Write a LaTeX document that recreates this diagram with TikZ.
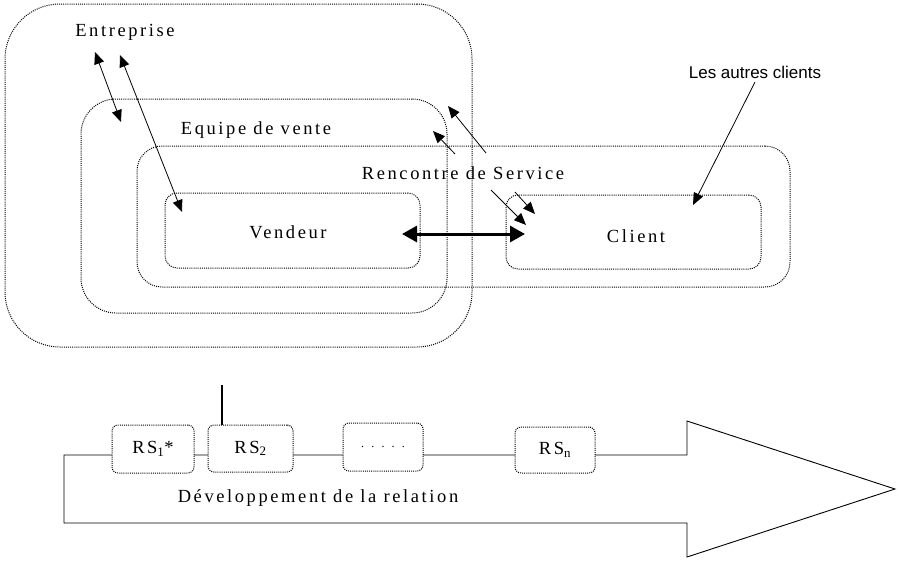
\documentclass[tikz,border=0pt]{standalone}
\usepackage{fontspec}
\setmainfont{Liberation Serif}
\setsansfont{Liberation Sans}
\usetikzlibrary{arrows.meta}
\tikzset{
  dotbox/.style={draw, line width=1pt, dash pattern=on 1pt off 1.1pt, fill=none, inner sep=0pt},
  rsbox/.style={draw, line width=1pt, dash pattern=on 1pt off 1.1pt, fill=white, rounded corners=6pt, inner sep=0pt, minimum width=82pt, minimum height=48pt},
  lbl/.style={font=\fontsize{18.5}{21}\selectfont\addfontfeatures{LetterSpace=14}, inner sep=0pt},
  arr/.style={line width=0.8pt, -{Triangle[length=12pt,width=10pt]}},
  darr/.style={line width=0.8pt, {Triangle[length=12pt,width=10pt]}-{Triangle[length=12pt,width=10pt]}},
  thickarr/.style={line width=3pt, {Triangle[length=15pt,width=16pt]}-{Triangle[length=15pt,width=16pt]}}
}
\begin{document}
\begin{tikzpicture}[x=1pt,y=-1pt]
\useasboundingbox (0,0) rectangle (899,560);
% nested boxes
\node[dotbox, rounded corners=55pt, minimum width=467pt, minimum height=343pt] (ent) at (238.5,175.5) {};
\node[dotbox, rounded corners=35pt, minimum width=366pt, minimum height=214pt] (eq) at (264,206) {};
\node[dotbox, rounded corners=25pt, minimum width=653pt, minimum height=141pt] (rs) at (463.5,216.5) {};
\node[dotbox, rounded corners=12pt, minimum width=255pt, minimum height=75pt] (vend) at (292.5,230.5) {};
\node[dotbox, rounded corners=12pt, minimum width=255pt, minimum height=74pt] (cli) at (633.5,232) {};
% labels
\node[lbl] (lent) at (125,32) {Entreprise};
\node[lbl] (leq) at (256,130) {Equipe de vente};
\node[lbl] (lrs) at (463,173) {Rencontre de Service};
\node[lbl] (lvend) at (288,232) {Vendeur};
\node[lbl] (lcli) at (636,236) {Client};
\node[inner sep=0pt, font=\sffamily\fontsize{17}{20}\selectfont] (lautres) at (755,72) {Les autres clients};
% arrows
\coordinate (a1) at (95,52);
\coordinate (a2) at (121,122);
\draw[darr] (a1) -- (a2);
\coordinate (b1) at (120,55);
\coordinate (b2) at (182,212);
\draw[darr] (b1) -- (b2);
\coordinate (c1) at (486,153);
\coordinate (c2) at (448,106);
\draw[arr] (c1) -- (c2);
\coordinate (d1) at (455,154);
\coordinate (d2) at (433,131);
\draw[arr] (d1) -- (d2);
\coordinate (e1) at (491,190);
\coordinate (e2) at (526,225);
\draw[arr] (e1) -- (e2);
\coordinate (f1) at (515,192);
\coordinate (f2) at (535,214);
\draw[arr] (f1) -- (f2);
\coordinate (g1) at (755,82);
\coordinate (g2) at (693,205);
\draw[arr] (g1) -- (g2);
\coordinate (h1) at (402,234);
\coordinate (h2) at (525,234);
\draw[thickarr] (h1) -- (h2);
% big development arrow
\draw[line width=0.9pt] (64,455) -- (687,455) -- (687,421) -- (895,489) -- (687,557) -- (687,523) -- (64,523) -- cycle;
\node[rsbox] (rs1) at (153,449) {\fontsize{18.5}{21}\selectfont\addfontfeatures{LetterSpace=14}RS\textsubscript{1}*};
\node[rsbox, minimum width=85pt, minimum height=47pt] (rs2) at (250.5,448.5) {\fontsize{18.5}{21}\selectfont\addfontfeatures{LetterSpace=14}RS\textsubscript{2}};
\node[rsbox, minimum width=80pt, minimum height=48pt] (rsd) at (383,447) {\fontsize{12}{14}\selectfont\addfontfeatures{LetterSpace=60}.....};
\node[rsbox, minimum width=80pt, minimum height=46pt] (rsn) at (555,450) {\fontsize{18.5}{21}\selectfont\addfontfeatures{LetterSpace=14}RS\textsubscript{n}};
\coordinate (top2) at (222,385);
\draw[line width=2.5pt] (top2) -- (top2 |- rs2.north);
\node[lbl] (ldev) at (318,498) {Développement de la relation};
\end{tikzpicture}
\end{document}
